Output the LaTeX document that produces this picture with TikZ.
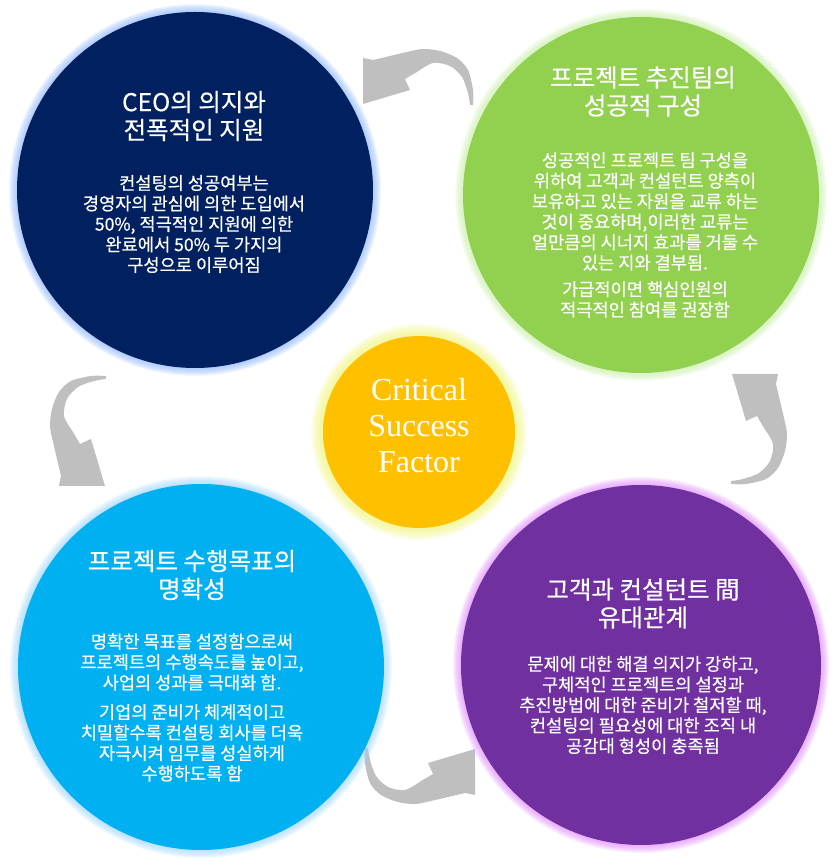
\documentclass[tikz,border=0pt]{standalone}
\usepackage{fontspec}
\setmainfont{Liberation Serif}
\newfontfamily\krfont[FakeBold=0.5]{Noto Sans CJK KR}
\usetikzlibrary{positioning}

\definecolor{ceonavy}{HTML}{002060}
\definecolor{ceoglow}{HTML}{8FB8FF}
\definecolor{teamgreen}{HTML}{92D050}
\definecolor{teamglow}{HTML}{C8EEA8}
\definecolor{goalblue}{HTML}{00B0F0}
\definecolor{goalglow}{HTML}{9FD6FF}
\definecolor{bondpurple}{HTML}{7030A0}
\definecolor{bondglow}{HTML}{E08CFF}
\definecolor{csfyellow}{HTML}{FFC000}
\definecolor{csfglow}{HTML}{F0F580}
\definecolor{arrowgray}{HTML}{BFBFBF}

\begin{document}
\begin{tikzpicture}[x=1pt, y=1pt,
    bubble/.style={circle, inner sep=0pt, draw=none},
    title/.style={text=white, align=center, inner sep=0pt,
      font=\krfont\fontsize{24.5}{28}\selectfont},
    body/.style={text=white, align=center, inner sep=0pt,
      font=\krfont\fontsize{17.6}{20.5}\selectfont},
    csftext/.style={text=white, align=center, inner sep=0pt,
      font=\fontsize{32}{36}\selectfont}]
    \useasboundingbox (0,0) rectangle (837,859);

    % Curved arrows
    \foreach \ang/\dx/\dy in {0/0/0, 90/12/0, 180/0/7, 270/-13/0}
      \fill[arrowgray, shift={(419+\dx,429+\dy)}, rotate=\ang]
        plot[smooth] coordinates {(54,325) (54,340) (49,360) (38,372) (21,379) (4,381) (-12,378) (-29,374) (-46,370)}
        -- (-56,372) -- (-56,326) -- (-9,340) -- (-14,351)
        -- plot[smooth] coordinates {(-2,358) (14,367) (31,364) (43,353) (49,337) (51,325)} -- cycle;

    % Circles with glow
    \foreach \nm/\cx/\cy/\r/\fc/\gc in {ceo/195/669/178/ceonavy/ceoglow,
        team/641/664/178/teamgreen/teamglow,
        goal/201/192/183/goalblue/goalglow,
        bond/641/194/180/bondpurple/bondglow}{
      \foreach \k in {1,...,8}
        \fill[\gc, opacity=0.13] (\cx,\cy) circle[radius=\r+\k];
      \node[bubble, fill=\fc, minimum size=2*\r] (\nm) at (\cx,\cy) {};
    }

    % Center circle
    \foreach \k in {1,...,10}
      \fill[csfglow, opacity=0.12] (419,427) circle[radius=96+1.2*\k];
    \node[bubble, fill=csfyellow, minimum size=192] (csf) at (419,427) {};
    \node[csftext] (csflabel) at (419,433) {Critical\\Success\\Factor};

    % CEO
    \node[title] (ceotitle) at (194,743) {CEO의 의지와\\전폭적인 지원};
    \node[body] (ceobody) at (194,635) {컨설팅의 성공여부는\\경영자의 관심에 의한 도입에서\\50\%, 적극적인 지원에 의한\\완료에서 50\% 두 가지의\\구성으로 이루어짐};

    % Project team
    \node[title] (teamtitle) at (643,767.5) {프로젝트 추진팀의\\성공적 구성};
    \node[body] (teambody) at (645,624) {성공적인 프로젝트 팀 구성을\\위하여 고객과 컨설턴트 양측이\\보유하고 있는 자원을 교류 하는\\것이 중요하며,이러한 교류는\\얼만큼의 시너지 효과를 거둘 수\\있는 지와 결부됨.\\[6pt]가급적이면 핵심인원의\\적극적인 참여를 권장함};

    % Goal
    \node[title] (goaltitle) at (192,284) {프로젝트 수행목표의\\명확성};
    \node[body] (goalbody) at (192,151.5) {명확한 목표를 설정함으로써\\프로젝트의 수행속도를 높이고,\\사업의 성과를 극대화 함.\\[9pt]기업의 준비가 체계적이고\\치밀할수록 컨설팅 회사를 더욱\\자극시켜 임무를 성실하게\\수행하도록 함};

    % Client-consultant bond
    \node[title] (bondtitle) at (643,255.5) {고객과 컨설턴트 間\\유대관계};
    \node[body] (bondbody) at (643,154) {문제에 대한 해결 의지가 강하고,\\구체적인 프로젝트의 설정과\\추진방법에 대한 준비가 철저할 때,\\컨설팅의 필요성에 대한 조직 내\\공감대 형성이 충족됨};
\end{tikzpicture}
\end{document}
